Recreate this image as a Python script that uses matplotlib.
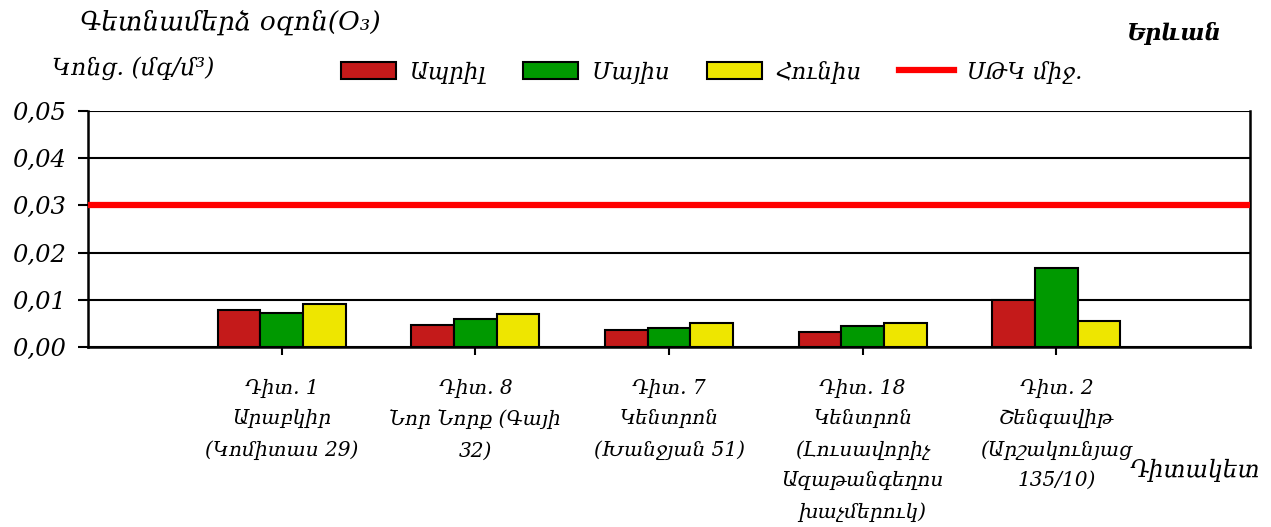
import matplotlib
matplotlib.use("Agg")
import matplotlib.pyplot as plt
import numpy as np

stations = ["Դիտ. 1\nԱրաբկիր\n(Կոմիտաս 29)",
            "Դիտ. 8\nՆոր Նորք (Գայի\n32)",
            "Դիտ. 7\nԿենտրոն\n(Խանջյան 51)",
            "Դիտ. 18\nԿենտրոն\n(Լուսավորիչ\nԱզաթանգեղոս\nխաչմերուկ)",
            "Դիտ. 2\nՇենգավիթ\n(Արշակունյաց\n135/10)"]
april = [0.0078, 0.0046, 0.0036, 0.0032, 0.0100]
may = [0.0073, 0.0059, 0.0041, 0.0045, 0.0168]
june = [0.0092, 0.0069, 0.0050, 0.0050, 0.0055]
mac = 0.03
series_names = ["Ապրիլ", "Մայիս", "Հունիս"]
line_name = "ՍԹԿ միջ."
yticks = [0.00, 0.01, 0.02, 0.03, 0.04, 0.05]

FONT = ["DejaVu Serif", "DejaVu Sans"]
plt.rcParams['font.family'] = FONT
plt.rcParams['font.style'] = 'italic'

fig = plt.figure(figsize=(12.71, 5.27), dpi=100)
ax = fig.add_axes([88/1271, 1-347/527, (1250-88)/1271, (347-111)/527])

colors = ["#C41A1A", "#009900", "#EEE600"]
x = np.arange(1, len(stations)+1)
w = 0.22
handles = []
for i, (vals, c, nm) in enumerate(zip([april, may, june], colors, series_names)):
    h = ax.bar(x + (i-1)*w, vals, width=w, color=c, edgecolor='black', linewidth=1.5, label=nm, zorder=3)
    handles.append(h)
ln = ax.axhline(mac, color='#FF0000', linewidth=4.5, zorder=4, label=line_name)
handles.append(ln)

ax.set_xlim(0, len(stations)+1)
ax.set_ylim(0, 0.05)
ax.set_yticks(yticks)
ax.set_yticklabels([f"{v:.2f}".replace('.', ',') for v in yticks], fontsize=17.5)
ax.set_xticks(x)
ax.set_xticklabels(stations, fontsize=14.5, linespacing=1.75, va='top')
ax.tick_params(axis='y', length=7, width=1.5, direction='out', pad=9)
ax.tick_params(axis='x', length=6, width=1.5, direction='out', pad=17)
ax.grid(axis='y', color='black', linewidth=1.5, zorder=0)
for s in ax.spines.values():
    s.set_linewidth(1.8)
ax.spines['top'].set_visible(False)

fig.text(80/1271, 1-22/527, "Գետնամերձ օզոն(O₃)", fontsize=19, va='center', ha='left')
fig.text(52/1271, 1-68/527, "Կոնց. (մգ/մ³)", fontsize=17, va='center', ha='left')
fig.text(1222/1271, 1-33/527, "Երևան", fontsize=16.5, fontweight='bold', va='center', ha='right')
fig.text(1260/1271, 1-470/527, "Դիտակետ", fontsize=17, va='center', ha='right')

fig.legend(handles=handles, labels=series_names + [line_name], loc='center',
           bbox_to_anchor=(712/1271, 1-72/527), ncol=4, frameon=False,
           fontsize=16.5, handlelength=2.4, handleheight=0.8, columnspacing=1.6,
           handletextpad=0.6)

fig.savefig("out.png", dpi=100)
